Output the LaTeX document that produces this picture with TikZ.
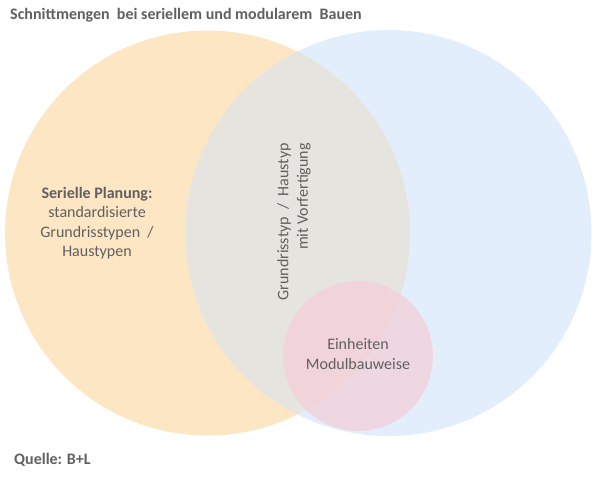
\documentclass[tikz,border=0pt]{standalone}
\usepackage{fontspec}
\setmainfont{Carlito}
\usepackage{tikz}
\definecolor{planorange}{HTML}{FDE6C4}
\definecolor{modulblue}{HTML}{E2EEFB}
\definecolor{schnittgray}{HTML}{E6E4DF}
\definecolor{einheitpink}{HTML}{F5CFD8}
\definecolor{textgray}{HTML}{606060}
\tikzset{
  venn/.style={circle,inner sep=0pt,minimum size=#1},
  label text/.style={text=textgray,font=\fontsize{16}{19.5}\selectfont,inner sep=0pt},
}

\begin{document}
\begin{tikzpicture}[x=1pt,y=-1pt]
        \useasboundingbox (0,0) rectangle (600,482);
        \node (plan) [venn=405pt,fill=planorange] at (207.5,233) {};
        \node (modul) [venn=406pt,fill=modulblue] at (388.5,233) {};
        \begin{scope}
            \clip (207.5,233) circle (202.5);
            \fill [schnittgray] (388.5,233) circle (203);
        \end{scope}
        \node (einheit) [venn=150pt,fill=einheitpink,fill opacity=0.72] at (358,356) {};

        \node (titel) [label text,anchor=west,font=\fontsize{16}{19.5}\selectfont\bfseries] at (10,15)
            {Schnittmengen\ \ bei seriellem und modularem\ \ Bauen};
        \node (serielle) [label text,align=center] at (97,223)
            {\textbf{Serielle Planung:}\\standardisierte\\Grundrisstypen\ \ /\\Haustypen};
        \node (grundriss) [label text,align=right,rotate=90,anchor=east] at (294,143)
            {Grundrisstyp\ \ /\ \ Haustyp\\mit Vorfertigung};
        \node (modulbau) [label text,align=center] at (358,354)
            {Einheiten\\Modulbauweise};
        \node (quelle) [label text,anchor=west,font=\fontsize{16}{19.5}\selectfont\bfseries] at (14,460)
            {Quelle: B+L};
    \end{tikzpicture}
\end{document}
